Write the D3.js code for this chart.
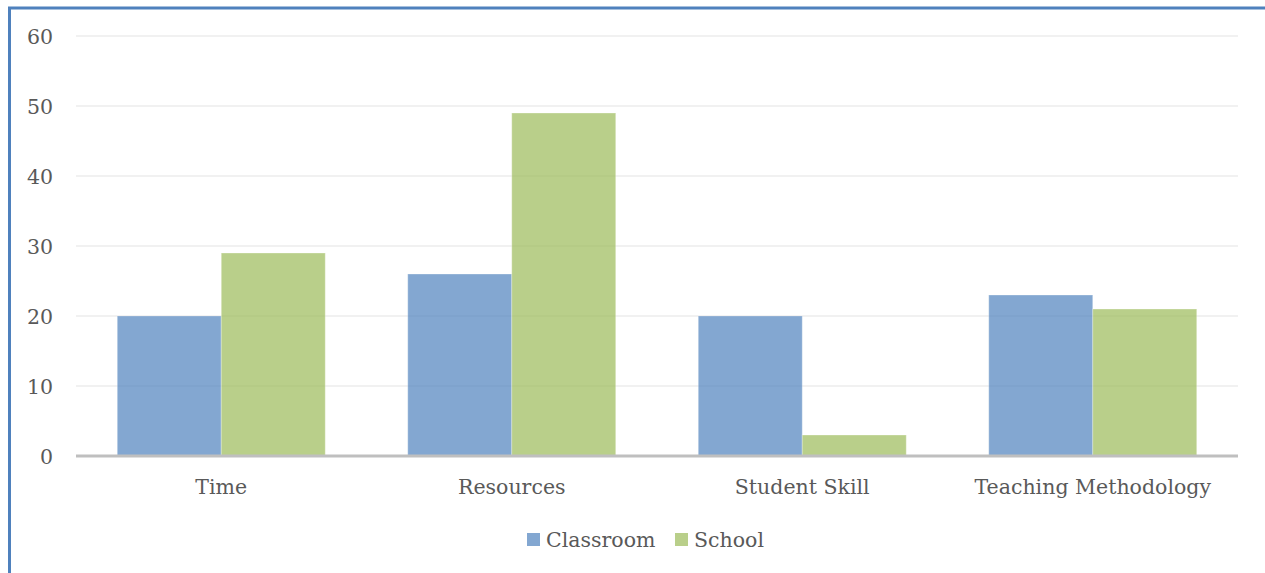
<!DOCTYPE html>
<html>
<head>
<meta charset="utf-8">
<script src="https://cdn.jsdelivr.net/npm/d3@7"></script>
<style>
  body { margin: 0; background: #fff; }
  svg { display: block; }
</style>
</head>
<body>
<svg></svg>
<script>
  // chart data
  var categories = ["Time", "Resources", "Student Skill", "Teaching Methodology"];
  var seriesNames = ["Classroom", "School"];
  var classroom = [20, 26, 20, 23];
  var school = [29, 49, 3, 21];
  var yTicks = [0, 10, 20, 30, 40, 50, 60];

  var width = 1265;
  var height = 573;
  var plotLeft = 76, plotRight = 1238, plotTop = 36, plotBottom = 456;
  var font = '"DejaVu Serif", "Liberation Serif", serif';
  var fontSize = 20.5;
  var colors = ["#4F81BD", "#9BBB59"];

  var svg = d3.select("svg")
              .attr("width", width)
              .attr("height", height);

  // frame (only top and left edges visible)
  svg.append("line")
     .attr("x1", 8).attr("x2", width).attr("y1", 8).attr("y2", 8)
     .attr("stroke", "#4F81BD").attr("stroke-width", 3);
  svg.append("line")
     .attr("x1", 9.5).attr("x2", 9.5).attr("y1", 7).attr("y2", height)
     .attr("stroke", "#4F81BD").attr("stroke-width", 3);

  var yScale = d3.scaleLinear()
                 .domain([0, 60])
                 .range([plotBottom, plotTop]);

  var xScale = d3.scaleBand()
                 .domain(categories)
                 .range([plotLeft, plotRight])
                 .paddingInner(0.284)
                 .paddingOuter(0.142);

  var inner = d3.scaleBand()
                .domain(seriesNames)
                .range([0, xScale.bandwidth()]);

  // gridlines
  svg.append("g")
     .selectAll("line")
     .data(yTicks.filter(d => d > 0))
     .enter()
       .append("line")
       .attr("x1", plotLeft).attr("x2", plotRight)
       .attr("y1", d => yScale(d)).attr("y2", d => yScale(d))
       .attr("stroke", "#EDEDED")
       .attr("stroke-width", 1.5);

  // y tick labels
  var verticalAxis = d3.axisLeft(yScale).tickValues(yTicks).tickSize(0).tickPadding(0);
  var gy = svg.append("g")
              .attr("transform", "translate(53,0)")
              .style("font-family", font)
              .call(verticalAxis);
  gy.select(".domain").remove();
  gy.selectAll("text")
    .attr("font-size", fontSize)
    .attr("fill", "#595959")
    .attr("dy", "0.36em");

  var rows = categories.map((c, i) => ({ cat: c, values: [classroom[i], school[i]] }));

  var groups = svg.append("g")
                  .selectAll("g")
                  .data(rows)
                  .enter()
                    .append("g")
                    .attr("transform", d => `translate(${xScale(d.cat)},0)`);

  groups.selectAll("rect")
        .data(d => d.values.map((v, j) => ({ name: seriesNames[j], value: v, j: j })))
        .enter()
          .append("rect")
          .attr("x", d => inner(d.name))
          .attr("y", d => yScale(d.value))
          .attr("width", inner.bandwidth())
          .attr("height", d => plotBottom - yScale(d.value))
          .attr("fill", d => colors[d.j])
          .attr("fill-opacity", 0.7)
          .attr("stroke", "#fff")
          .attr("stroke-opacity", 0.3)
          .attr("stroke-width", 1);

  // x axis
  var horizontalAxis = d3.axisBottom(xScale).tickSize(0).tickPadding(0);
  var gx = svg.append("g")
              .attr("transform", `translate(0,${plotBottom})`)
              .style("font-family", font)
              .call(horizontalAxis);
  gx.select(".domain").remove();
  gx.selectAll("text")
    .attr("font-size", fontSize)
    .attr("fill", "#595959")
    .attr("y", 38)
    .attr("dy", 0);

  svg.append("line")
     .attr("x1", plotLeft).attr("x2", plotRight)
     .attr("y1", plotBottom).attr("y2", plotBottom)
     .attr("stroke", "#BFBFBF")
     .attr("stroke-width", 3);

  // legend
  var legendX = [527, 675];
  var legend = svg.append("g")
                  .selectAll("g")
                  .data(seriesNames)
                  .enter()
                    .append("g")
                    .attr("transform", (d, i) => `translate(${legendX[i]},533)`);
  legend.append("rect")
        .attr("width", 13).attr("height", 13)
        .attr("fill", (d, i) => colors[i])
        .attr("fill-opacity", 0.7);
  legend.append("text")
        .attr("x", 19)
        .attr("y", 14)
        .style("font-family", font)
        .attr("font-size", fontSize)
        .attr("fill", "#595959")
        .text(d => d);
</script>
</body>
</html>
